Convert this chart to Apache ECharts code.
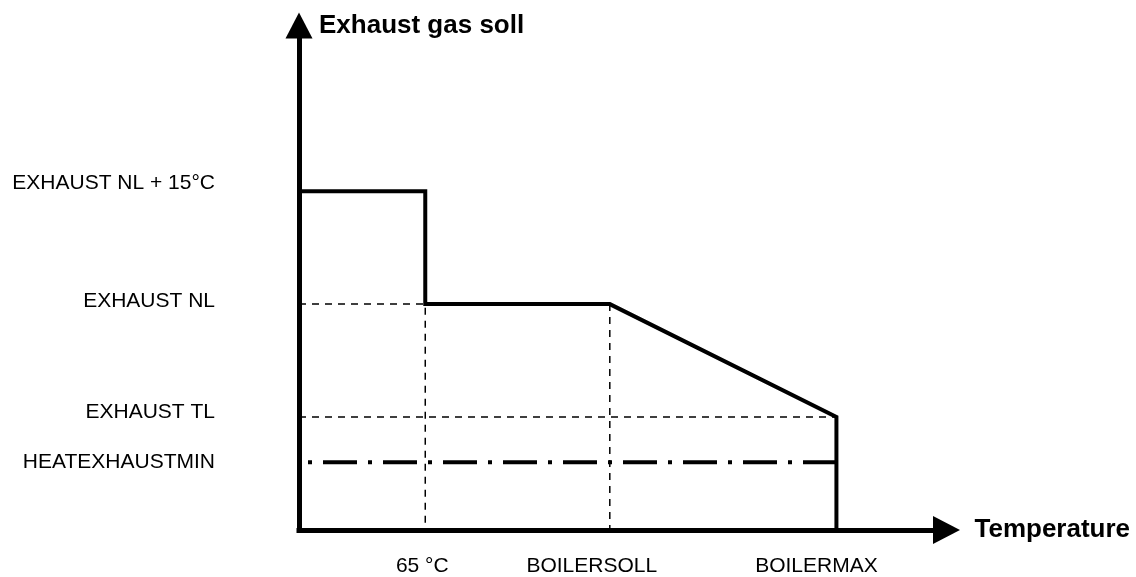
<!DOCTYPE html>
<html>
<head>
<meta charset="utf-8">
<title>Exhaust gas soll</title>
<script src="https://cdn.jsdelivr.net/npm/echarts@6/dist/echarts.min.js"></script>
<style>
  html, body { margin: 0; padding: 0; background: #fff; }
  #chart { width: 1136px; height: 577px; }
</style>
</head>
<body>
<div id="chart"></div>
<script>
// Temperature breakpoints along the x axis (schematic units)
const xTicks = [19.5, 48, 83];
const xTickLabels = ['65 °C', 'BOILERSOLL', 'BOILERMAX'];
// horizontal shift of each x label relative to its breakpoint (px, negative = left)
const xLabelShift = [-3, -18, -20];

// Exhaust gas set-point levels on the y axis (schematic units, °C steps)
const yTicks = [45, 30, 15, 9];
const yTickLabels = ['EXHAUST NL + 15°C', 'EXHAUST NL', 'EXHAUST TL', 'HEATEXHAUSTMIN'];
// vertical lift of each y label above its level (px)
const yLabelLift = [8, 3, 5, 0];

const xMax = 100;
const yMax = 67;

// Set-point curve: NL+15 up to 65 °C, NL up to BOILERSOLL, ramp to TL at BOILERMAX, then off
const curveX = [0, 19.5, 19.5, 48, 83, 83];
const curveY = [45, 45, 30, 30, 15, 0];

// Thin dashed guides
const guideNL = { x: [0, 19.5, 19.5], y: [30, 30, 0] };
const guideSoll = { x: [48, 48], y: [30, 0] };
const guideTL = { x: [0, 83], y: [15, 15] };
// Minimum exhaust level (dash-dot)
const minLine = { x: [0, 83], y: [9, 9] };

const zip = (xs, ys) => xs.map((x, i) => [x, ys[i]]);
const FONT = '"Liberation Sans", Arial, Helvetica, sans-serif';

const xRich = {}, yRich = {};
xTickLabels.forEach((t, i) => {
  const s = xLabelShift[i];
  xRich['x' + i] = {
    fontSize: 21, fontFamily: FONT, color: '#000',
    padding: s < 0 ? [0, -2 * s, 0, 0] : [0, 0, 0, 2 * s]
  };
});
yTickLabels.forEach((t, i) => {
  yRich['y' + i] = {
    fontSize: 21, fontFamily: FONT, color: '#000',
    padding: [0, 0, 2 * yLabelLift[i], 0]
  };
});

const thinDash = { color: '#000', width: 1.5, type: [7, 6] };

const chart = echarts.init(document.getElementById('chart'), null, { renderer: 'canvas' });
chart.setOption({
  animation: false,
  backgroundColor: '#fff',
  grid: { left: 299, right: 189.5, top: 25.5, bottom: 47, containLabel: false },
  xAxis: {
    type: 'value', min: 0, max: xMax,
    name: 'Temperature', nameLocation: 'end', nameGap: 28,
    nameTextStyle: { fontSize: 26, fontWeight: 'bold', fontFamily: FONT, color: '#000', verticalAlign: 'middle', padding: [0, 0, 8, 0] },
    axisLine: { show: true, symbol: ['none', 'triangle'], symbolSize: [28, 27], lineStyle: { color: '#000', width: 5, cap: 'square' } },
    axisTick: { show: false },
    splitLine: { show: false },
    axisLabel: {
      customValues: xTicks, margin: 26, color: '#000', fontSize: 21, fontFamily: FONT,
      formatter: v => { const i = xTicks.indexOf(v); return i < 0 ? '' : '{x' + i + '|' + xTickLabels[i] + '}'; },
      rich: xRich
    }
  },
  yAxis: {
    type: 'value', min: 0, max: yMax,
    name: 'Exhaust gas soll', nameLocation: 'end', nameGap: 0,
    nameTextStyle: { fontSize: 26, fontWeight: 'bold', fontFamily: FONT, color: '#000', align: 'left', verticalAlign: 'middle', padding: [14, 0, 0, 20] },
    axisLine: { show: true, symbol: ['none', 'triangle'], symbolSize: [27, 26], lineStyle: { color: '#000', width: 5, cap: 'square' } },
    axisTick: { show: false },
    splitLine: { show: false },
    axisLabel: {
      customValues: yTicks, margin: 84, color: '#000', fontSize: 21, fontFamily: FONT,
      formatter: v => { const i = yTicks.indexOf(v); return i < 0 ? '' : '{y' + i + '|' + yTickLabels[i] + '}'; },
      rich: yRich
    }
  },
  series: [
    { type: 'line', data: zip(guideNL.x, guideNL.y), symbol: 'none', lineStyle: thinDash, z: 1, silent: true },
    { type: 'line', data: zip(guideSoll.x, guideSoll.y), symbol: 'none', lineStyle: thinDash, z: 1, silent: true },
    { type: 'line', data: zip(guideTL.x, guideTL.y), symbol: 'none', lineStyle: thinDash, z: 1, silent: true },
    {
      type: 'line', data: zip(minLine.x, minLine.y), symbol: 'none', z: 2, silent: true,
      lineStyle: { color: '#000', width: 4, type: [4, 11, 34, 11], dashOffset: 51 }
    },
    {
      type: 'line', data: zip(curveX, curveY), symbol: 'none', z: 3, silent: true,
      lineStyle: { color: '#000', width: 4, join: 'miter' }
    }
  ]
});
</script>
</body>
</html>
